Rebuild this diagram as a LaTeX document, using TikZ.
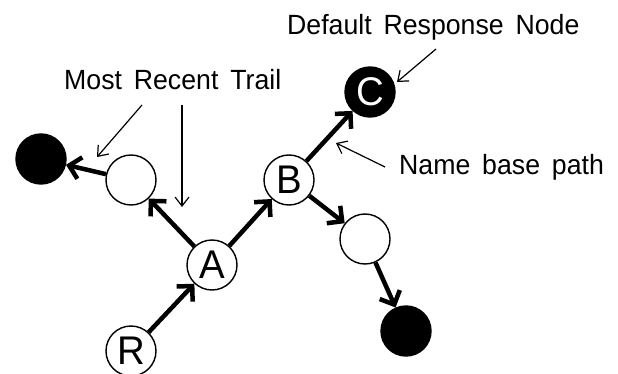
\documentclass[tikz,border=0pt]{standalone}
\usepackage{fontspec}
\setmainfont{Liberation Sans}[WordSpace=1.6,FakeStretch=0.96]
\usetikzlibrary{arrows.meta}
\begin{document}
\begin{tikzpicture}[x=1pt,y=-1pt,
  vertex/.style={circle,draw,line width=1.4pt,minimum size=50pt,inner sep=0pt,
    font=\fontsize{40}{40}\selectfont},
  hollow/.style={vertex,fill=white},
  filledvertex/.style={vertex,fill=black,text=white},
  link/.style={line width=4.5pt,-{Straight Barb[length=11pt,width=22pt,line width=4.5pt]}},
  pointer/.style={line width=1.2pt,-{Straight Barb[length=9pt,width=14pt,line width=1.2pt]}},
  labeltext/.style={anchor=base west,inner sep=0pt,font=\fontsize{27.8}{30}\selectfont}]
\useasboundingbox (0,0) rectangle (618,374);

% tree nodes
\node[hollow] (R) at (131,351) {R};
\node[hollow] (A) at (212,265) {A};
\node[hollow] (B) at (289,180) {B};
\node[filledvertex] (C) at (370,92) {C};
\node[hollow] (L1) at (131,180) {};
\node[filledvertex] (L2) at (41,159) {};
\node[hollow] (W) at (365,239) {};
\node[filledvertex] (K) at (406,331) {};

% edges
\draw[link] (R) -- (A);
\draw[link] (A) -- (B);
\draw[link] (B) -- (C);
\draw[link] (A) -- (L1);
\draw[link] (L1) -- (L2);
\draw[link] (B) -- (W);
\draw[link] (W) -- (K);

% annotations
\node[labeltext] (trail) at (64,90) {Most Recent Trail};
\node[labeltext] (default) at (287,35) {Default Response Node};
\node[labeltext] (namebase) at (399,175) {Name base path};

\coordinate (t1s) at (142,105);
\coordinate (t1e) at (97,157);
\coordinate (t2s) at (182,105);
\coordinate (t2e) at (182,207);
\coordinate (ds) at (436,49);
\coordinate (de) at (397,82);
\coordinate (ns) at (385,167);
\coordinate (ne) at (336,143);

\draw[pointer] (t1s) -- (t1e);
\draw[pointer] (t2s) -- (t2e);
\draw[pointer] (ds) -- (de);
\draw[pointer] (ns) -- (ne);
\end{tikzpicture}
\end{document}
